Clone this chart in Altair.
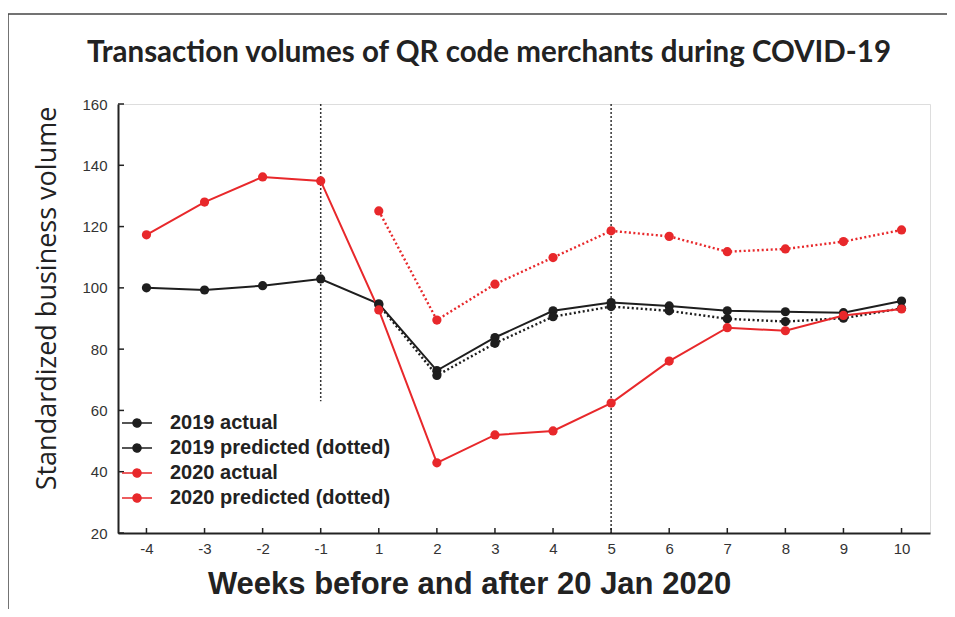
import altair as alt
import pandas as pd

weeks = ["-4", "-3", "-2", "-1", "1", "2", "3", "4", "5", "6", "7", "8", "9", "10"]
actual_2019 = [100, 99.3, 100.7, 102.9, 94.8, 73, 83.8, 92.5, 95.2, 94.1, 92.5, 92.2, 91.9, 95.7]
pred_2019 = [None, None, None, None, 94.5, 71.4, 81.9, 90.6, 93.9, 92.5, 89.9, 89.0, 90.1, 93.3]
actual_2020 = [117.3, 128, 136.2, 134.9, 92.8, 42.9, 52, 53.3, 62.4, 76.1, 87, 86, 91, 93.1]
pred_2020 = [None, None, None, None, 125.1, 89.5, 101.2, 109.9, 118.6, 116.8, 111.8, 112.7, 115.1, 118.9]

series_names = ["2019 actual", "2019 predicted (dotted)", "2020 actual", "2020 predicted (dotted)"]
series_values = [actual_2019, pred_2019, actual_2020, pred_2020]
series_kind = ["actual", "predicted", "actual", "predicted"]
series_colors = ["#1e1e1e", "#1e1e1e", "#e8282b", "#e8282b"]

y_ticks = [20, 40, 60, 80, 100, 120, 140, 160]
vline_weeks = ["-1", "5"]
vline_top = [160, 160]
vline_bottom = [63, 20]

title_text = "Transaction volumes of QR code merchants during COVID-19"

rows = []
for name, kind, vals in zip(series_names, series_kind, series_values):
    for w, v in zip(weeks, vals):
        if v is not None:
            rows.append({"week": w, "value": v, "series": name, "kind": kind})
df = pd.DataFrame(rows)

W, H = 812, 429
LABEL_FONT = "Liberation Sans Narrow, Liberation Sans, Arial, sans-serif"

x_enc = alt.X(
    "week:O",
    scale=alt.Scale(domain=weeks, type="point", padding=0.49),
    axis=alt.Axis(
        title="Weeks before and after 20 Jan 2020",
        labelAngle=0,
        ticks=False,
        labelPadding=8,
        labelFont=LABEL_FONT,
        labelFontSize=15,
        labelColor="#333",
        titleFont="Liberation Sans",
        titleFontSize=31,
        titleFontWeight="bold",
        titleColor="#222",
        titleX=351,
        titleY=60,
        titleAlign="center",
        titleBaseline="alphabetic",
        domainColor="#222",
        domainWidth=2,
    ),
)
y_enc = alt.Y(
    "value:Q",
    scale=alt.Scale(domain=[20, 160], nice=False, zero=False),
    axis=alt.Axis(
        title="Standardized business volume",
        values=y_ticks,
        ticks=False,
        grid=False,
        labelPadding=11,
        labelFont=LABEL_FONT,
        labelFontSize=15,
        labelColor="#333",
        titleFont="Open Sans",
        titleFontSize=27,
        titleFontWeight="normal",
        titleColor="#222",
        titleAngle=-90,
        titleX=-71,
        titleY=194,
        titleAlign="center",
        titleBaseline="middle",
        domainColor="#222",
        domainWidth=2,
    ),
)

color_scale = alt.Scale(domain=series_names, range=series_colors)

legend_def = alt.Legend(
    title=None,
    orient="none",
    legendX=8,
    legendY=308,
    padding=0,
    rowPadding=4,
    symbolType="M-1.5,0L1.5,0M-0.4,0A0.4,0.4,0,1,1,0.4,0A0.4,0.4,0,1,1,-0.4,0Z",
    symbolSize=400,
    symbolStrokeWidth=1.5,
    symbolDash=[1, 0],
    symbolOpacity=1,
    labelOffset=22,
    labelFont="Liberation Sans",
    labelFontSize=20,
    labelFontWeight="bold",
    labelColor="#222",
    labelLimit=400,
)

base = alt.Chart(df)

lines_actual = base.transform_filter(alt.datum.kind == "actual").mark_line(strokeWidth=2).encode(
    x=x_enc,
    y=y_enc,
    stroke=alt.Stroke("series:N", scale=color_scale, legend=legend_def),
)
lines_pred = base.transform_filter(alt.datum.kind == "predicted").mark_line(
    strokeWidth=2.4, strokeDash=[2, 2.5]
).encode(
    x=x_enc,
    y=y_enc,
    stroke=alt.Stroke("series:N", scale=color_scale, legend=legend_def),
)

points = base.mark_circle(size=85, opacity=1).encode(
    x=x_enc,
    y=y_enc,
    fill=alt.Fill("series:N", scale=color_scale, legend=legend_def),
)

vdf = pd.DataFrame({"week": vline_weeks, "value": vline_top, "bottom": vline_bottom})
vlines = alt.Chart(vdf).mark_rule(color="#333", strokeWidth=1.5, strokeDash=[2, 2]).encode(
    x=x_enc, y=y_enc, y2="bottom:Q"
)

xt = alt.Chart(pd.DataFrame({"week": weeks})).mark_rule(color="#222", strokeWidth=1.5).encode(
    x=x_enc, y=alt.value(H), y2=alt.value(H - 5)
)
yt = alt.Chart(pd.DataFrame({"value": y_ticks})).mark_rule(color="#222", strokeWidth=1.5).encode(
    y=y_enc, x=alt.value(0), x2=alt.value(6)
)

one = pd.DataFrame({"t": [title_text]})
frame_top = alt.Chart(one).mark_rule(color="#444", strokeWidth=1.5).encode(
    x=alt.value(-110), x2=alt.value(837), y=alt.value(-90)
)
frame_left = alt.Chart(one).mark_rule(color="#444", strokeWidth=1.5).encode(
    x=alt.value(-110), y=alt.value(-90), y2=alt.value(513)
)
title_mark = alt.Chart(one).mark_text(
    font="Lato", fontSize=29.5, fontWeight="bold", color="#222",
    align="center", baseline="alphabetic",
).encode(text="t:N", x=alt.value(371), y=alt.value(-42))

chart = alt.layer(
    frame_top, frame_left, title_mark, vlines, xt, yt, lines_pred, lines_actual, points
).properties(
    width=W,
    height=H,
    padding={"left": 110, "top": 96, "right": 17, "bottom": 76},
    autosize=alt.AutoSizeParams(type="none"),
).configure_view(stroke=None).configure(background="white")

chart.save("out.html", embed_options={"renderer": "svg", "actions": False})
